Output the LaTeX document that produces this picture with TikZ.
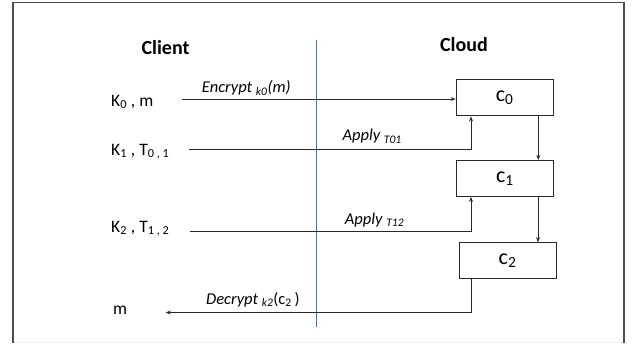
\documentclass[tikz,border=0pt]{standalone}
\usepackage{fontspec}
\setmainfont{Carlito}
\usetikzlibrary{arrows.meta}
\definecolor{linegray}{RGB}{40,40,40}
\definecolor{divblue}{RGB}{68,114,196}
\begin{document}
\begin{tikzpicture}[x=1pt,y=-1pt,
  box/.style={draw=linegray,line width=1pt,minimum width=97pt,minimum height=36pt,inner sep=0pt,font=\fontsize{22}{24}\selectfont},
  lbl/.style={inner sep=0pt,font=\fontsize{17.5}{19}\selectfont},
  elbl/.style={inner sep=0pt,font=\fontsize{16.5}{18}\selectfont\itshape},
  hdr/.style={inner sep=0pt,font=\fontsize{20}{22}\selectfont\bfseries},
  conn/.style={draw=linegray,line width=1pt,-{Stealth[length=5pt,width=4pt]}}]
\useasboundingbox (0,0) rectangle (634,343);
\fill[white] (0,0) rectangle (634,343);
\fill[black!6] (13,341.5) rectangle (624,343);
\draw[black!70,line width=1.5pt] (13,343) -- (13,2.5) -- (624,2.5) -- (624,343);
\draw[divblue,line width=0.8pt] (316,40) -- (316,327);
% headers
\node[hdr,anchor=base] (client) at (165.5,54.3) {Client};
\node[hdr,anchor=base] (cloud) at (464,51) {Cloud};
% left labels
\node[lbl,anchor=base west] (k0) at (111,106) {K\textsubscript{0} , m};
\node[lbl,anchor=base west] (k1) at (111,155) {K\textsubscript{1} , T\textsubscript{0 , 1}};
\node[lbl,anchor=base west] (k2) at (111,232) {K\textsubscript{2} , T\textsubscript{1 , 2}};
\node[lbl,anchor=base west] (mout) at (113,314) {m};
% boxes
\node[box] (c0) at (504.7,97.9) {c\textsubscript{0}};
\node[box] (c1) at (504.9,178.4) {c\textsubscript{1}};
\node[box] (c2) at (507.5,260.7) {c\textsubscript{2}};
% start coordinates
\coordinate (s0) at (181.7,99);
\coordinate (s1) at (189,149.3);
\coordinate (s2) at (190,231);
\coordinate (e3) at (165.7,312.5);
% connectors
\draw[conn] (s0) -- (s0 -| c0.west);
\draw[conn] (s1) -| ([xshift=-33.7pt]c0.south);
\draw[conn] (s2) -| ([xshift=-33.9pt]c1.south);
\draw[conn] ([xshift=33.6pt]c0.south) -- ([xshift=33.6pt]c0.south |- c1.north);
\draw[conn] ([xshift=33.1pt]c1.south) -- ([xshift=33.1pt]c1.south |- c2.north);
\draw[conn] ([xshift=-36.5pt]c2.south) |- (e3);
% edge labels
\node[elbl,anchor=base west] (lenc) at (201.7,92.7) {Encrypt \textsubscript{k0}(m)};
\node[elbl,anchor=base west] (lap1) at (342.3,140.7) {Apply \textsubscript{T01}};
\node[elbl,anchor=base west] (lap2) at (344.7,224) {Apply \textsubscript{T12}};
\node[elbl,anchor=base west] (ldec) at (206,304) {Decrypt \textsubscript{k2}{\upshape(c\textsubscript{2}\,)}};
\end{tikzpicture}
\end{document}
